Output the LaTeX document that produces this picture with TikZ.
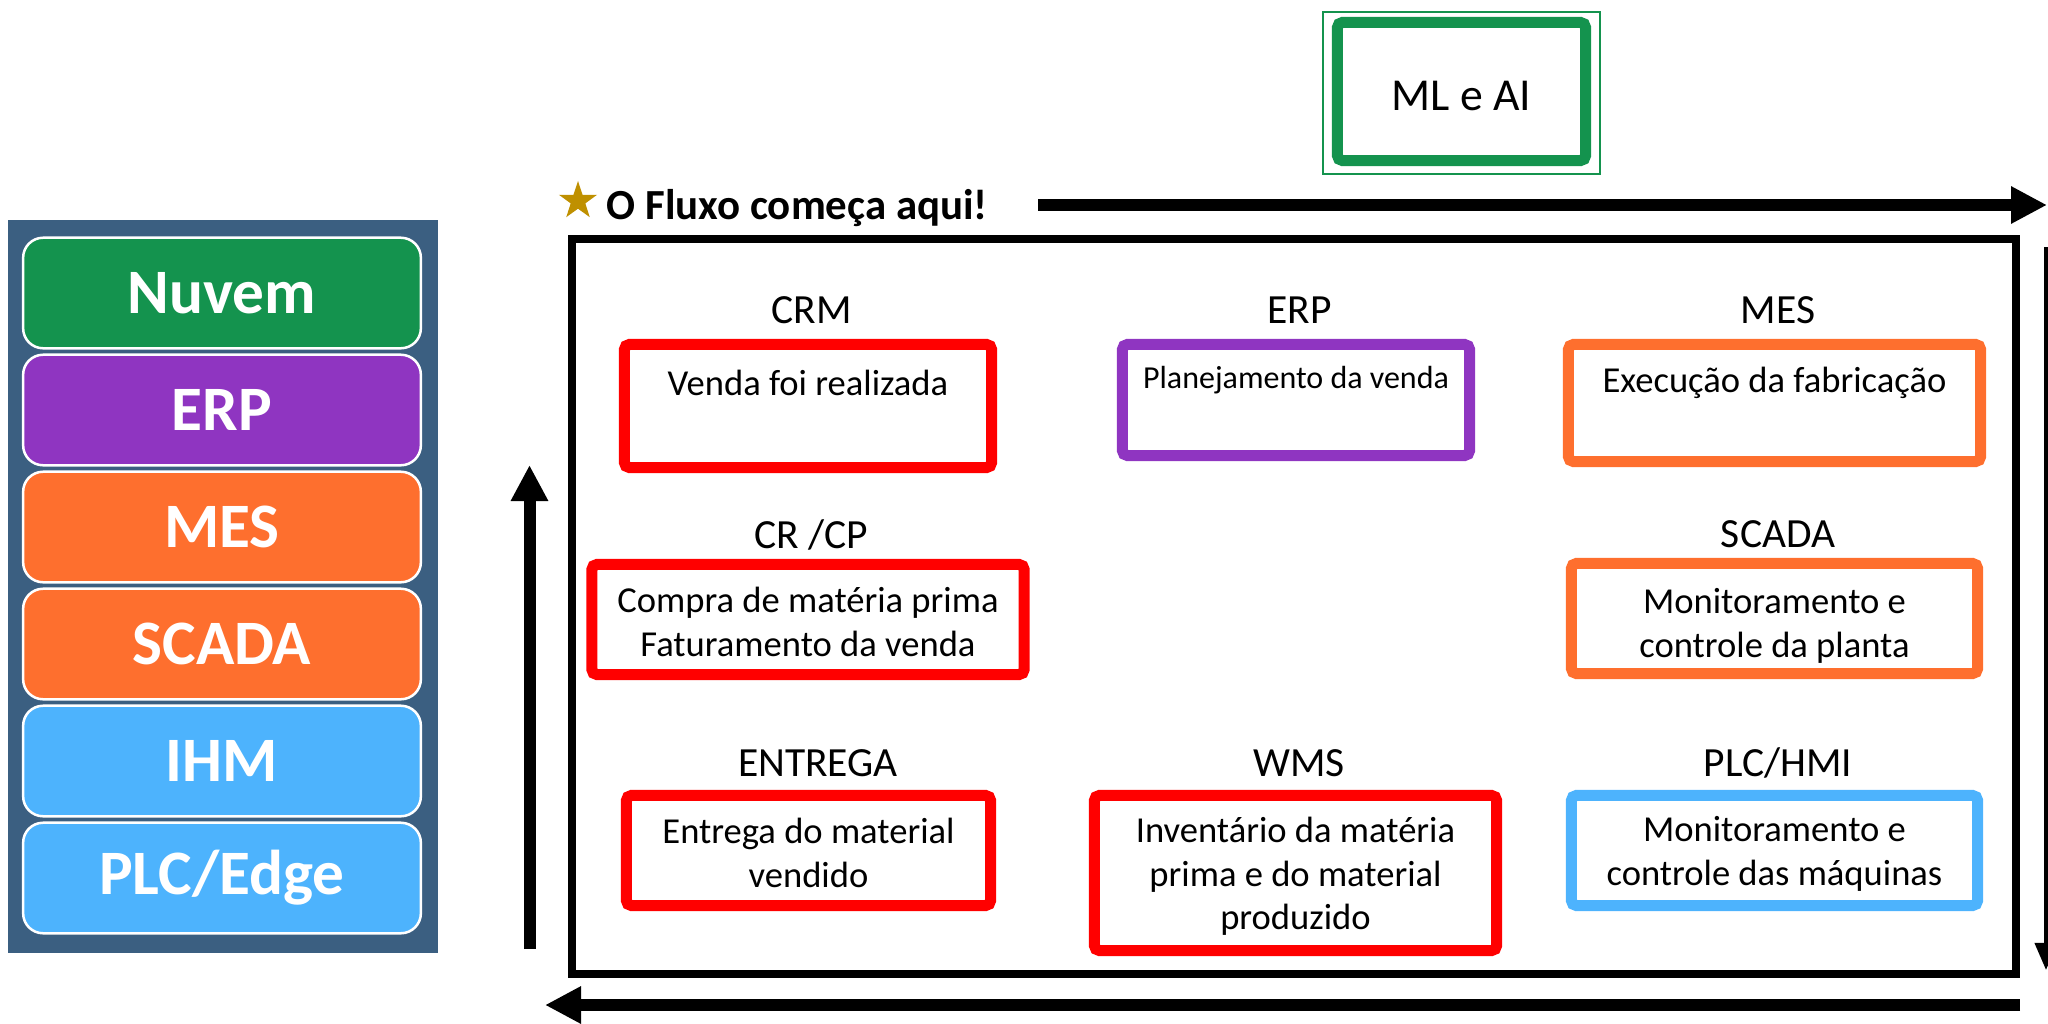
\documentclass[tikz,border=0pt]{standalone}
\usepackage{fontspec}
\setmainfont{Carlito}
\usetikzlibrary{positioning,arrows.meta,shapes.geometric}

\definecolor{painel}{HTML}{3B5F81}
\definecolor{verde}{HTML}{14934E}
\definecolor{roxo}{HTML}{8F35C1}
\definecolor{laranja}{HTML}{FE6F2E}
\definecolor{azulclaro}{HTML}{4DB3FD}
\definecolor{vermelho}{HTML}{FF0000}
\definecolor{dourado}{HTML}{BF9000}

\tikzset{
  camada/.style={draw=white, line width=0.025cm, rounded corners=0.2cm,
    minimum width=3.975cm, minimum height=1.105cm, text=white,
    font=\fontsize{18pt}{21pt}\selectfont\bfseries},
  caixa/.style={draw=#1, line width=0.11cm, rounded corners=0.05cm, fill=white},
  rotulo/.style={font=\fontsize{11.8pt}{14pt}\selectfont, inner sep=0pt, anchor=base, xshift=0.035cm},
  texto/.style={font=\fontsize{10.4pt}{12.5pt}\selectfont, align=center, inner sep=0pt,
    execute at begin node=\strut},
  fluxo/.style={line width=0.12cm, -{Triangle[length=0.36cm, width=0.35cm]}},
}

\begin{document}
\begin{tikzpicture}[x=0.01cm, y=-0.01cm]
  \useasboundingbox (0,0) rectangle (2048,1024);

  % pilha de camadas
  \fill[painel] (8,220) rectangle (438,953);
  \foreach \cor/\nome [count=\i] in {verde/Nuvem, roxo/ERP, laranja/MES, laranja/SCADA, azulclaro/IHM, azulclaro/{PLC/Edge}}
    \node[camada, fill=\cor] (camada\i) at (222,176+117*\i) {\nome};

  % ML e AI
  \draw[verde, line width=0.015cm] (1323,12) rectangle (1600,174);
  \node[caixa=verde, minimum width=2.48cm, minimum height=1.38cm, text height=10.6pt, text depth=0pt,
        font=\fontsize{13pt}{15pt}\selectfont] (mlai) at (1461.5,91.5) {ML e AI};

  % inicio do fluxo
  \node[star, star points=5, star point ratio=2.6, fill=dourado, inner sep=0pt,
        minimum size=0.4cm] (estrela) at (578,201) {};
  \node[font=\fontsize{12.2pt}{14pt}\selectfont\bfseries, anchor=base west, inner sep=0pt]
        (inicio) at (606,219) {O Fluxo começa aqui!};

  % moldura
  \draw[line width=0.08cm] (572,239) rectangle (2016,974);

  % caixas
  \node[caixa=vermelho, minimum width=3.67cm, minimum height=1.23cm] (crm) at (808,406) {};
  \node[caixa=roxo, minimum width=3.47cm, minimum height=1.11cm] (erp) at (1296,400) {};
  \node[caixa=laranja, minimum width=4.12cm, minimum height=1.17cm] (mes) at (1774.5,403) {};
  \node[caixa=vermelho, minimum width=4.32cm, minimum height=1.10cm] (crcp) at (808,619.5) {};
  \node[caixa=laranja, minimum width=4.06cm, minimum height=1.10cm] (scada) at (1774.5,618.5) {};
  \node[caixa=vermelho, minimum width=3.64cm, minimum height=1.10cm] (entrega) at (808.5,850.5) {};
  \node[caixa=vermelho, minimum width=4.02cm, minimum height=1.55cm] (wms) at (1295.5,873) {};
  \node[caixa=azulclaro, minimum width=4.06cm, minimum height=1.10cm] (plchmi) at (1774.5,850.5) {};

  % rotulos
  \node[above=0.15cm of crm.north, rotulo] (crmlbl) {CRM};
  \node[above=0.15cm of erp.north, rotulo] (erplbl) {ERP};
  \node[above=0.15cm of mes.north, rotulo] (meslbl) {MES};
  \node[above=0.1cm of crcp.north, rotulo] (crcplbl) {CR /CP};
  \node[above=0.1cm of scada.north, rotulo] (scadalbl) {SCADA};
  \node[above=0.13cm of entrega.north, rotulo, xshift=0.06cm] (entregalbl) {ENTREGA};
  \node[above=0.13cm of wms.north, rotulo] (wmslbl) {WMS};
  \node[above=0.13cm of plchmi.north, rotulo] (plchmilbl) {PLC/HMI};

  % textos
  \node[texto, below=0.255cm of crm.north] (crmtxt) {Venda foi realizada};
  \node[texto, below=0.21cm of erp.north, font=\fontsize{9.1pt}{11.2pt}\selectfont] (erptxt) {Planejamento da venda};
  \node[texto, below=0.22cm of mes.north] (mestxt) {Execução da fabricação};
  \node[texto, below=0.27cm of crcp.north] (crcptxt) {Compra de matéria prima\\Faturamento da venda};
  \node[texto, below=0.3cm of scada.north] (scadatxt) {Monitoramento e\\controle da planta};
  \node[texto, below=0.27cm of entrega.north] (entregatxt) {Entrega do material\\vendido};
  \node[texto, below=0.26cm of wms.north] (wmstxt) {Inventário da matéria\\prima e do material\\produzido};
  \node[texto, below=0.26cm of plchmi.north] (plchmitxt) {Monitoramento e\\controle das máquinas};

  % setas do fluxo
  \coordinate (topoini) at (1038,205);
  \coordinate (topofim) at (2047,205);
  \coordinate (dirini) at (2046,247);
  \coordinate (dirfim) at (2046,970);
  \coordinate (baseini) at (2020,1005);
  \coordinate (basefim) at (545,1005);
  \coordinate (esqini) at (529.5,949);
  \coordinate (esqfim) at (529.5,465);
  \draw[fluxo] (topoini) -- (topofim);
  \draw[line width=0.04cm, -{Triangle[length=0.27cm, width=0.22cm]}] (dirini) -- (dirfim);
  \draw[fluxo] (baseini) -- (basefim);
  \draw[fluxo] (esqini) -- (esqfim);
\end{tikzpicture}
\end{document}
